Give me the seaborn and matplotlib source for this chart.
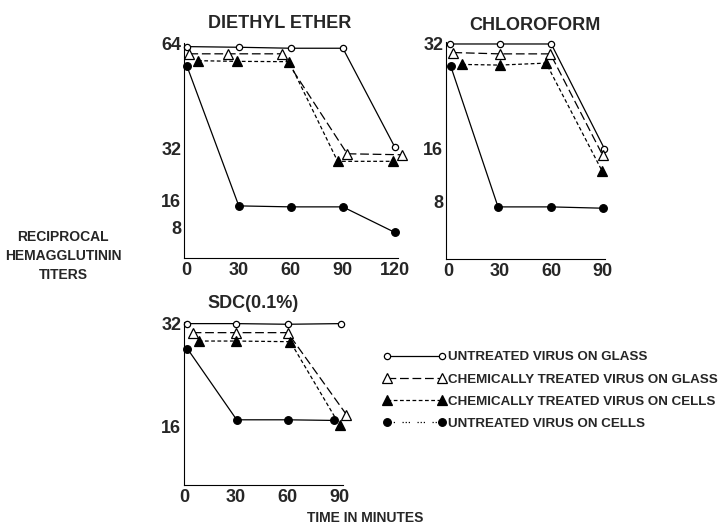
import matplotlib
matplotlib.use("Agg")
import matplotlib.pyplot as plt
from matplotlib.lines import Line2D
import seaborn as sns

# ---------------- data ----------------
SERIES = ["UNTREATED VIRUS ON GLASS",
          "CHEMICALLY TREATED VIRUS ON GLASS",
          "CHEMICALLY TREATED VIRUS ON CELLS",
          "UNTREATED VIRUS ON CELLS"]

# Diethyl ether panel (x = minutes, y = reciprocal HA titer)
ETHER_X_UG = [0, 30, 60, 90, 120]
ETHER_Y_UG = [63.1, 62.9, 62.6, 62.6, 32.4]
ETHER_X_TG = [1.5, 24, 55, 92.5, 124]
ETHER_Y_TG = [60.9, 60.9, 60.9, 30.4, 30.1]
ETHER_X_TC = [6.5, 29, 59, 87, 119]
ETHER_Y_TC = [58.8, 58.6, 58.5, 28.1, 28.1]
ETHER_X_UC = [0, 30, 60, 90, 120]
ETHER_Y_UC = [57.3, 14.5, 14.2, 14.2, 6.4]
ETHER_XTICKS = [0, 30, 60, 90, 120]
ETHER_YTICKS = [8, 16, 32, 64]

# Chloroform panel
CHLORO_X_UG = [1, 30, 60, 91]
CHLORO_Y_UG = [31.9, 31.9, 31.9, 16.0]
CHLORO_X_TG = [3, 30, 59.5, 90]
CHLORO_Y_TG = [30.6, 30.4, 30.4, 15.0]
CHLORO_X_TC = [8, 30, 57, 89.5]
CHLORO_Y_TC = [28.8, 28.7, 29.0, 12.7]
CHLORO_X_UC = [1.5, 29, 60, 90]
CHLORO_Y_UC = [28.5, 7.2, 7.2, 7.0]
CHLORO_XTICKS = [0, 30, 60, 90]
CHLORO_YTICKS = [8, 16, 32]

# SDC (0.1%) panel
SDC_X_UG = [2, 30, 60, 91]
SDC_Y_UG = [32.0, 32.0, 31.9, 32.0]
SDC_X_TG = [5, 30, 60, 94]
SDC_Y_TG = [30.6, 30.6, 30.6, 17.9]
SDC_X_TC = [8.5, 30, 61.5, 90]
SDC_Y_TC = [29.3, 29.3, 29.2, 16.3]
SDC_X_UC = [2, 30.5, 60, 87]
SDC_Y_UC = [28.1, 17.1, 17.1, 17.0]
SDC_XTICKS = [0, 30, 60, 90]
SDC_YTICKS = [16, 32]

TITLES = ["DIETHYL ETHER", "CHLOROFORM", "SDC(0.1%)"]
YLABEL = "RECIPROCAL\nHEMAGGLUTININ\nTITERS"
XLABEL = "TIME IN MINUTES"

# ---------------- style ----------------
sns.set_style("white")
plt.rcParams["font.family"] = ["Liberation Sans", "DejaVu Sans"]
plt.rcParams["font.weight"] = "bold"

STYLES = [
    dict(marker="o", mfc="white", mec="black", ms=4.5, mew=0.9, ls="-"),
    dict(marker="^", mfc="white", mec="black", ms=7, mew=0.9, ls=(0, (7, 3))),
    dict(marker="^", mfc="black", mec="black", ms=7, mew=0.9, ls=(0, (3, 2))),
    dict(marker="o", mfc="black", mec="black", ms=5.5, mew=0.9, ls="-"),
]
LEGEND_LS = ["-", (0, (7, 3)), (0, (3, 2)), (0, (1, 1.5, 1, 1.5, 1, 6))]

W, H = 723, 526
fig = plt.figure(figsize=(W / 100, H / 100), dpi=100)


def rect(l, r, t, b):
    return [l / W, 1 - b / H, (r - l) / W, (b - t) / H]


panels = [
    dict(rect=rect(184, 398, 43, 258), xlim=(-1.6, 121.8), ylim=(-1.4, 64.2),
         xs=[ETHER_X_UG, ETHER_X_TG, ETHER_X_TC, ETHER_X_UC],
         ys=[ETHER_Y_UG, ETHER_Y_TG, ETHER_Y_TC, ETHER_Y_UC],
         xt=ETHER_XTICKS, yt=ETHER_YTICKS, title=TITLES[0], tx=280, ty=23),
    dict(rect=rect(446, 605, 42, 259), xlim=(-1.3, 91.3), ylim=(-0.7, 32.2),
         xs=[CHLORO_X_UG, CHLORO_X_TG, CHLORO_X_TC, CHLORO_X_UC],
         ys=[CHLORO_Y_UG, CHLORO_Y_TG, CHLORO_Y_TC, CHLORO_Y_UC],
         xt=CHLORO_XTICKS, yt=CHLORO_YTICKS, title=TITLES[1], tx=535, ty=25),
    dict(rect=rect(184, 343, 322, 485), xlim=(0.3, 92), ylim=(7.0, 32.25),
         xs=[SDC_X_UG, SDC_X_TG, SDC_X_TC, SDC_X_UC],
         ys=[SDC_Y_UG, SDC_Y_TG, SDC_Y_TC, SDC_Y_UC],
         xt=SDC_XTICKS, yt=SDC_YTICKS, title=TITLES[2], tx=253, ty=303),
]

for p in panels:
    ax = fig.add_axes(p["rect"])
    for xv, yv, st in zip(p["xs"], p["ys"], STYLES):
        sns.lineplot(x=xv, y=yv, ax=ax, color="black", lw=0.9,
                     clip_on=False, legend=False, **st)
    ax.set_xlim(*p["xlim"])
    ax.set_ylim(*p["ylim"])
    ax.set_xticks(p["xt"])
    ax.set_xticklabels([str(v) for v in p["xt"]], fontsize=13, fontweight="bold")
    ax.set_yticks(p["yt"])
    ax.set_yticklabels([str(v) for v in p["yt"]], fontsize=13, fontweight="bold")
    ax.tick_params(length=0, pad=2)
    ax.tick_params(axis="x", pad=3)
    for s in ["top", "right"]:
        ax.spines[s].set_visible(False)
    for s in ["left", "bottom"]:
        ax.spines[s].set_color("black")
        ax.spines[s].set_linewidth(0.8)
    ax.set_xlabel("")
    ax.set_ylabel("")
    fig.text(p["tx"] / W, 1 - p["ty"] / H, p["title"], ha="center", va="center",
             fontsize=13, fontweight="bold")

fig.text(63 / W, 1 - 256 / H, YLABEL, ha="center", va="center", fontsize=10,
         fontweight="bold", linespacing=1.45)
fig.text(365 / W, 1 - 518 / H, XLABEL, ha="center", va="center", fontsize=10,
         fontweight="bold")

handles = [Line2D([], [], color="black", lw=0.9, ls=ls,
                  **{k: v for k, v in st.items() if k != "ls"})
           for st, ls in zip(STYLES, LEGEND_LS)]
fig.legend(handles, SERIES, loc="upper left", bbox_to_anchor=(383 / W, 1 - 351 / H),
           frameon=False, numpoints=2, handlelength=4.7, handletextpad=0.15,
           borderpad=0, borderaxespad=0, labelspacing=0.74,
           prop=dict(size=9.6, weight="bold"))

fig.savefig("out.png", dpi=100)
